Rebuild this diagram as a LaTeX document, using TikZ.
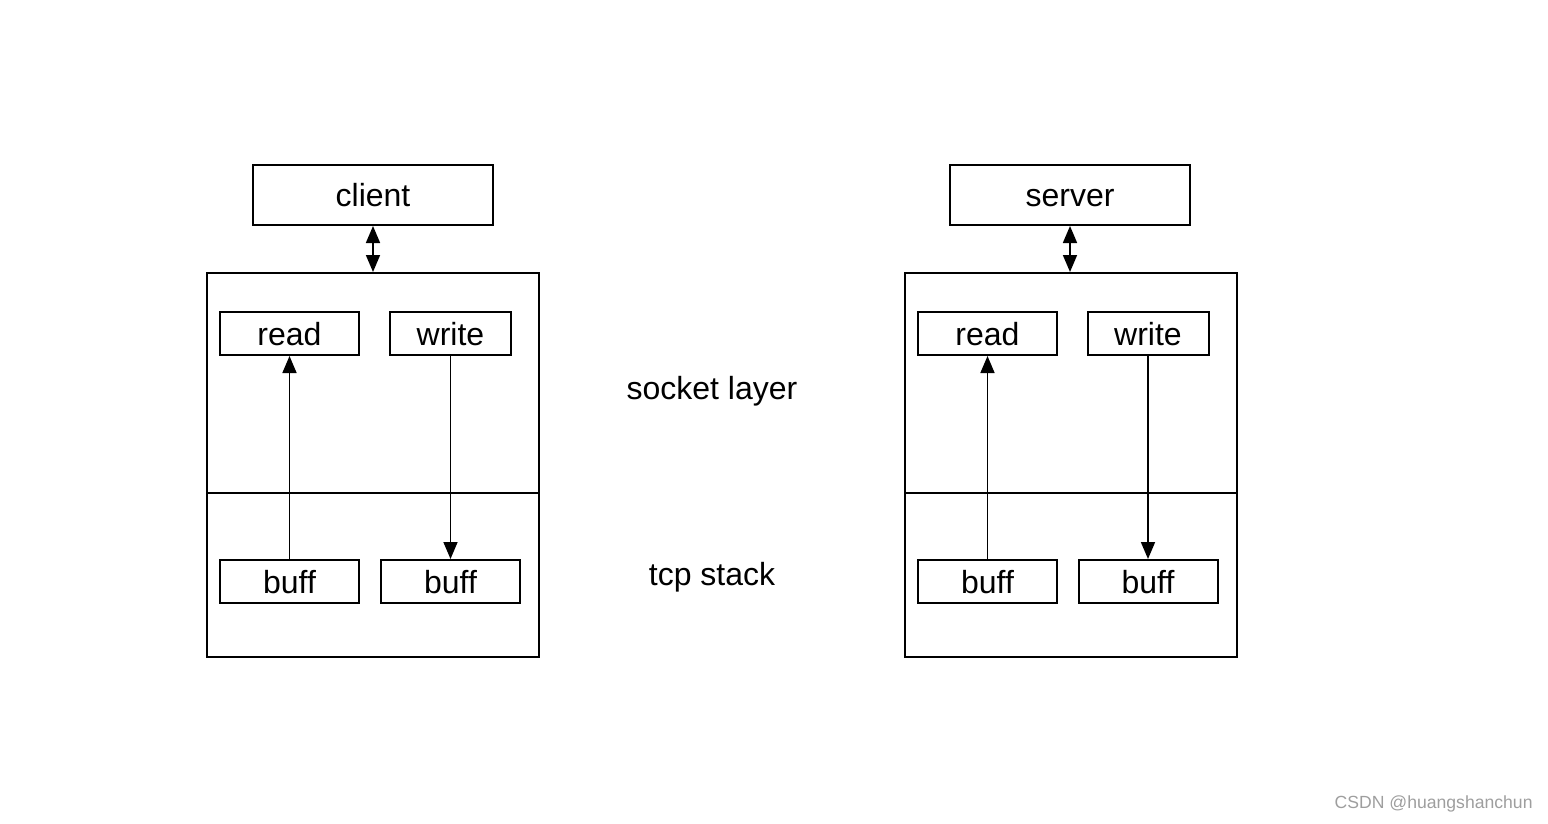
\documentclass[tikz,border=0pt]{standalone}
\usepackage{fontspec}
\setmainfont{Liberation Sans}
\usetikzlibrary{arrows.meta}
\begin{document}
\begin{tikzpicture}[x=0.5pt,y=-0.5pt,
  lbl/.style={font=\fontsize{16pt}{19pt}\selectfont, text height=11.5pt, text depth=0pt},
  box/.style={draw, line width=1pt, inner sep=0pt, lbl},
  conn/.style={line width=0.85pt, -{Triangle[length=8.5pt,width=7pt]}},
  dconn/.style={line width=0.85pt, {Triangle[length=8.5pt,width=7pt]}-{Triangle[length=8.5pt,width=7pt]}}]
\useasboundingbox (0,0) rectangle (1548,824);
% left side
\node[box, minimum width=120pt, minimum height=30pt] (client) at (373,195) {client};
\node[draw, line width=1pt, minimum width=166pt, minimum height=192pt, inner sep=0pt] (lbig) at (373,465) {};
\draw[line width=1pt] (lbig.west |- 0,493) coordinate (ldl) -- (lbig.east |- 0,493) coordinate (ldr);
\node[box, minimum width=69.5pt, minimum height=21.5pt] (lread) at (289.5,333.5) {read};
\node[box, minimum width=60.5pt, minimum height=21.5pt] (lwrite) at (450.5,333.5) {write};
\node[box, minimum width=69.5pt, minimum height=21.5pt] (lbuffa) at (289.5,581.5) {buff};
\node[box, minimum width=69.5pt, minimum height=21.5pt] (lbuffb) at (450.5,581.5) {buff};
\draw[dconn] (client.south) -- (lbig.north);
\draw[conn] (lbuffa.north) -- (lread.south);
\draw[conn] (lwrite.south) -- (lbuffb.north);
% right side
\node[box, minimum width=120pt, minimum height=30pt] (server) at (1070,195) {server};
\node[draw, line width=1pt, minimum width=166pt, minimum height=192pt, inner sep=0pt] (rbig) at (1071,465) {};
\draw[line width=1pt] (rbig.west |- 0,493) coordinate (rdl) -- (rbig.east |- 0,493) coordinate (rdr);
\node[box, minimum width=69.5pt, minimum height=21.5pt] (rread) at (987.5,333.5) {read};
\node[box, minimum width=60.5pt, minimum height=21.5pt] (rwrite) at (1148,333.5) {write};
\node[box, minimum width=69.5pt, minimum height=21.5pt] (rbuffa) at (987.5,581.5) {buff};
\node[box, minimum width=69.5pt, minimum height=21.5pt] (rbuffb) at (1148,581.5) {buff};
\draw[dconn] (server.south) -- (server.south |- rbig.north);
\draw[conn] (rbuffa.north) -- (rread.south);
\draw[conn] (rwrite.south) -- (rbuffb.north);
% middle labels
\node[lbl] (socket) at (712,388) {socket layer};
\node[lbl] (tcp) at (712,574) {tcp stack};
% watermark
\node[font=\fontsize{8.8pt}{10pt}\selectfont, text=black!38, anchor=east, inner sep=0pt] (wm) at (1533,804) {CSDN @huangshanchun};
\end{tikzpicture}
\end{document}
